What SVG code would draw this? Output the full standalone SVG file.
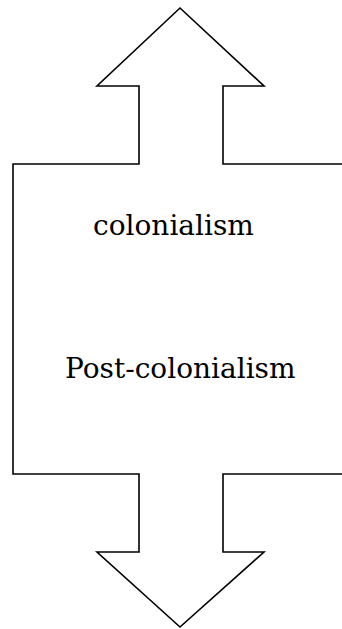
<svg xmlns="http://www.w3.org/2000/svg" width="342" height="629" viewBox="0 0 342 629">
<style>
.shape{fill:#fff;stroke:#000;stroke-width:1.6;stroke-linejoin:miter}
.lbl{font-family:"DejaVu Serif","Liberation Serif",serif;font-size:28px;fill:#000}
</style>
<rect width="342" height="629" fill="#fff"/>
<g id="arrow">
<path class="shape" d="M 345 164 L 223 164 L 223 86 L 264 86 L 180 8 L 97 86 L 139 86 L 139 164 L 13 164 L 13 474 L 139 474 L 139 552 L 97 552 L 180 627 L 264 552 L 223 552 L 223 474 L 345 474"/>
</g>
<g id="colonialism"><text class="lbl" x="93" y="235">colonialism</text></g>
<g id="post-colonialism"><text class="lbl" x="65" y="378">Post-colonialism</text></g>
<g id="connectors"></g>
</svg>
